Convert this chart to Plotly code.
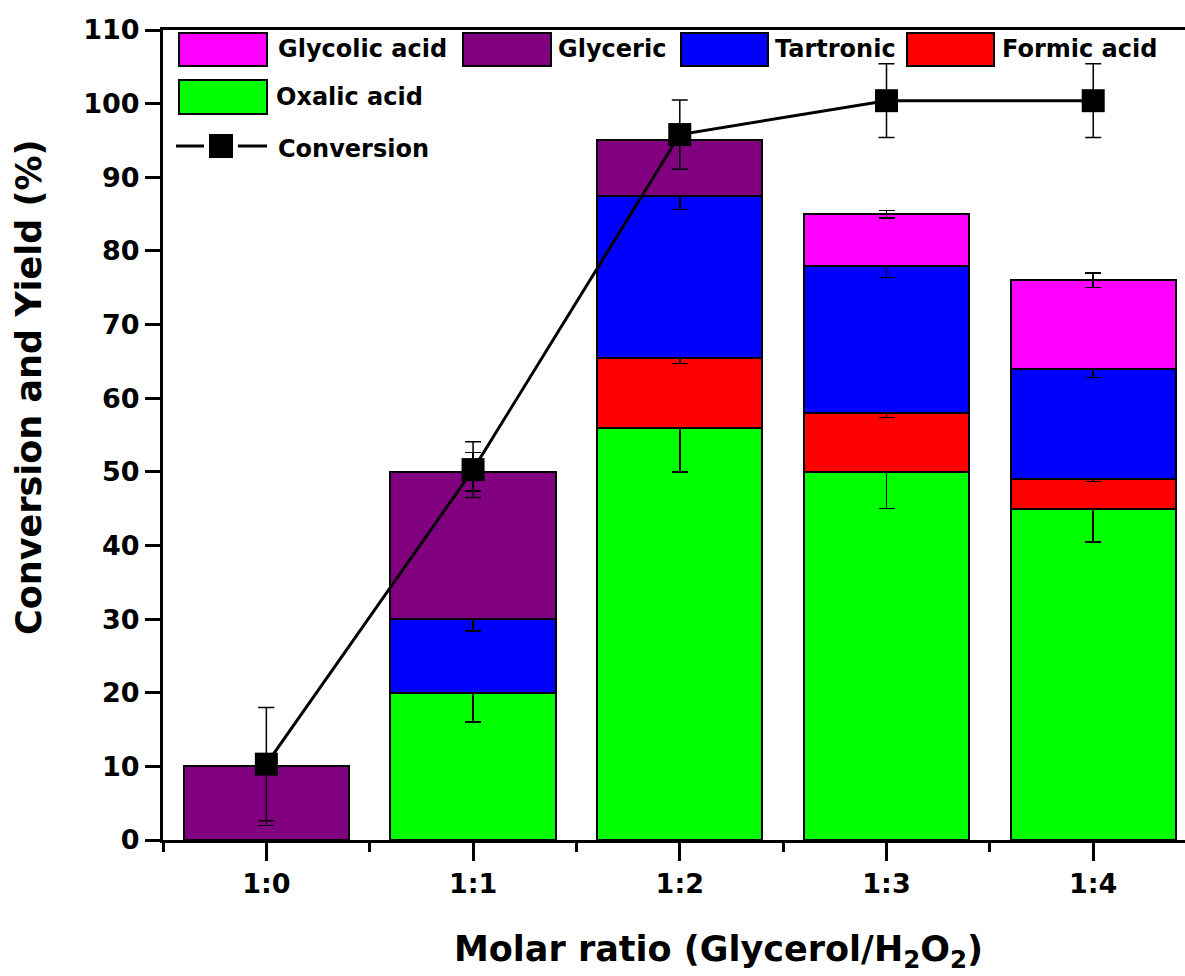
import plotly.graph_objects as go

categories = ["1:0", "1:1", "1:2", "1:3", "1:4"]
xpos = [0, 1, 2, 3, 4]

oxalic = [None, 20, 56, 50, 45]
oxalic_err = [0, 4, 6, 5, 4.5]
formic = [None, None, 9.4, 8, 4]
formic_err = [0, 0, 0.7, 0.6, 0.3]
tartronic = [None, 10, 22, 20, 15]
tartronic_err = [0, 1.6, 1.8, 1.6, 1.2]
glyceric = [10, 20, 7.6, None, None]
glyceric_err = [8.0, 2.6, 0, 0, 0]
glycolic = [None, None, None, 7, 12]
glycolic_err = [0, 0, 0, 0.5, 1.0]

conversion = [10.3, 50.3, 95.8, 100.4, 100.4]
conversion_err = [7.7, 3.8, 4.7, 5.0, 5.0]

series = [
    ("Oxalic acid", oxalic, oxalic_err, "#00FF00"),
    ("Formic acid", formic, formic_err, "#FF0000"),
    ("Tartronic", tartronic, tartronic_err, "#0000FF"),
    ("Glyceric", glyceric, glyceric_err, "#800080"),
    ("Glycolic acid", glycolic, glycolic_err, "#FF00FF"),
]

FONT = "DejaVu Sans, sans-serif"

fig = go.Figure()
for name, vals, errs, col in series:
    fig.add_trace(go.Bar(
        x=xpos, y=vals, name=name, width=0.8,
        marker=dict(color=col, line=dict(color="black", width=2)),
        error_y=dict(type="data", array=errs, visible=True, color="black",
                     thickness=1.5, width=8),
        showlegend=False,
    ))

fig.add_trace(go.Scatter(
    x=xpos, y=conversion, name="Conversion", mode="lines+markers",
    line=dict(color="black", width=3),
    marker=dict(symbol="square", size=23, color="black"),
    error_y=dict(type="data", array=conversion_err, visible=True, color="black",
                 thickness=1.5, width=8),
    showlegend=False,
))

# Manual legend (pixel -> paper conversion)
L, T, W, H = 163, 30, 1022, 810
def px(x):
    return (x - L) / W
def py(y):
    return (T + H - y) / H

shapes = []
annotations = []
legend_items = [
    ("Glycolic acid", "#FF00FF", 179, 267, 33, 66, 276),
    ("Glyceric", "#800080", 463, 551, 33, 66, 556),
    ("Tartronic", "#0000FF", 681, 768, 33, 66, 773),
    ("Formic acid", "#FF0000", 907, 994, 33, 66, 1000),
    ("Oxalic acid", "#00FF00", 179, 267, 80, 114, 274),
]
for name, col, x0, x1, y0, y1, tx in legend_items:
    shapes.append(dict(type="rect", xref="paper", yref="paper",
                       x0=px(x0), x1=px(x1), y0=py(y1), y1=py(y0),
                       fillcolor=col, line=dict(color="black", width=2)))
    annotations.append(dict(xref="paper", yref="paper", x=px(tx), y=py((y0 + y1) / 2),
                            text=name, showarrow=False, xanchor="left", yanchor="middle",
                            font=dict(family=FONT, size=24, color="black", weight="bold")))
# Conversion legend
shapes.append(dict(type="line", xref="paper", yref="paper", x0=px(176), x1=px(204),
                   y0=py(146), y1=py(146), line=dict(color="black", width=3)))
shapes.append(dict(type="line", xref="paper", yref="paper", x0=px(238), x1=px(267),
                   y0=py(146), y1=py(146), line=dict(color="black", width=3)))
shapes.append(dict(type="rect", xref="paper", yref="paper", x0=px(209), x1=px(233),
                   y0=py(158), y1=py(134), fillcolor="black", line=dict(color="black", width=0)))
annotations.append(dict(xref="paper", yref="paper", x=px(276), y=py(149),
                        text="Conversion", showarrow=False, xanchor="left", yanchor="middle",
                        font=dict(family=FONT, size=24, color="black", weight="bold")))

# Axis titles
annotations.append(dict(xref="paper", yref="paper", x=px(718), y=py(952),
                        text="Molar ratio (Glycerol/H<sub>2</sub>O<sub>2</sub>)",
                        showarrow=False, xanchor="center", yanchor="middle",
                        font=dict(family=FONT, size=35, color="black", weight="bold")))
annotations.append(dict(xref="paper", yref="paper", x=px(29), y=py(387),
                        text="Conversion and Yield (%)", textangle=-90,
                        showarrow=False, xanchor="center", yanchor="middle",
                        font=dict(family=FONT, size=35, color="black", weight="bold")))

fig.update_layout(
    width=1185, height=976,
    margin=dict(l=L, r=0, t=T, b=976 - T - H),
    paper_bgcolor="white", plot_bgcolor="white",
    barmode="stack",
    font=dict(family=FONT, color="black"),
    shapes=shapes, annotations=annotations,
    showlegend=False,
)
fig.update_xaxes(
    range=[-0.5, 4.444], tickmode="array", tickvals=xpos, ticktext=categories,
    showline=True, linewidth=3, linecolor="black", mirror=True,
    ticks="outside", ticklen=18, tickwidth=3, tickcolor="black",
    minor=dict(tickmode="array", tickvals=[-0.5, 0.5, 1.5, 2.5, 3.5], ticks="outside",
               ticklen=9, tickwidth=3, tickcolor="black"),
    showgrid=False, zeroline=False,
    tickfont=dict(family=FONT, size=27, color="black", weight="bold"),
)
fig.update_yaxes(
    range=[0, 110], dtick=10, tick0=0,
    showline=True, linewidth=3, linecolor="black", mirror=False,
    ticks="outside", ticklen=15, tickwidth=3, tickcolor="black",
    showgrid=False, zeroline=False,
    tickfont=dict(family=FONT, size=27, color="black", weight="bold"),
)

fig.write_html("out.html")
